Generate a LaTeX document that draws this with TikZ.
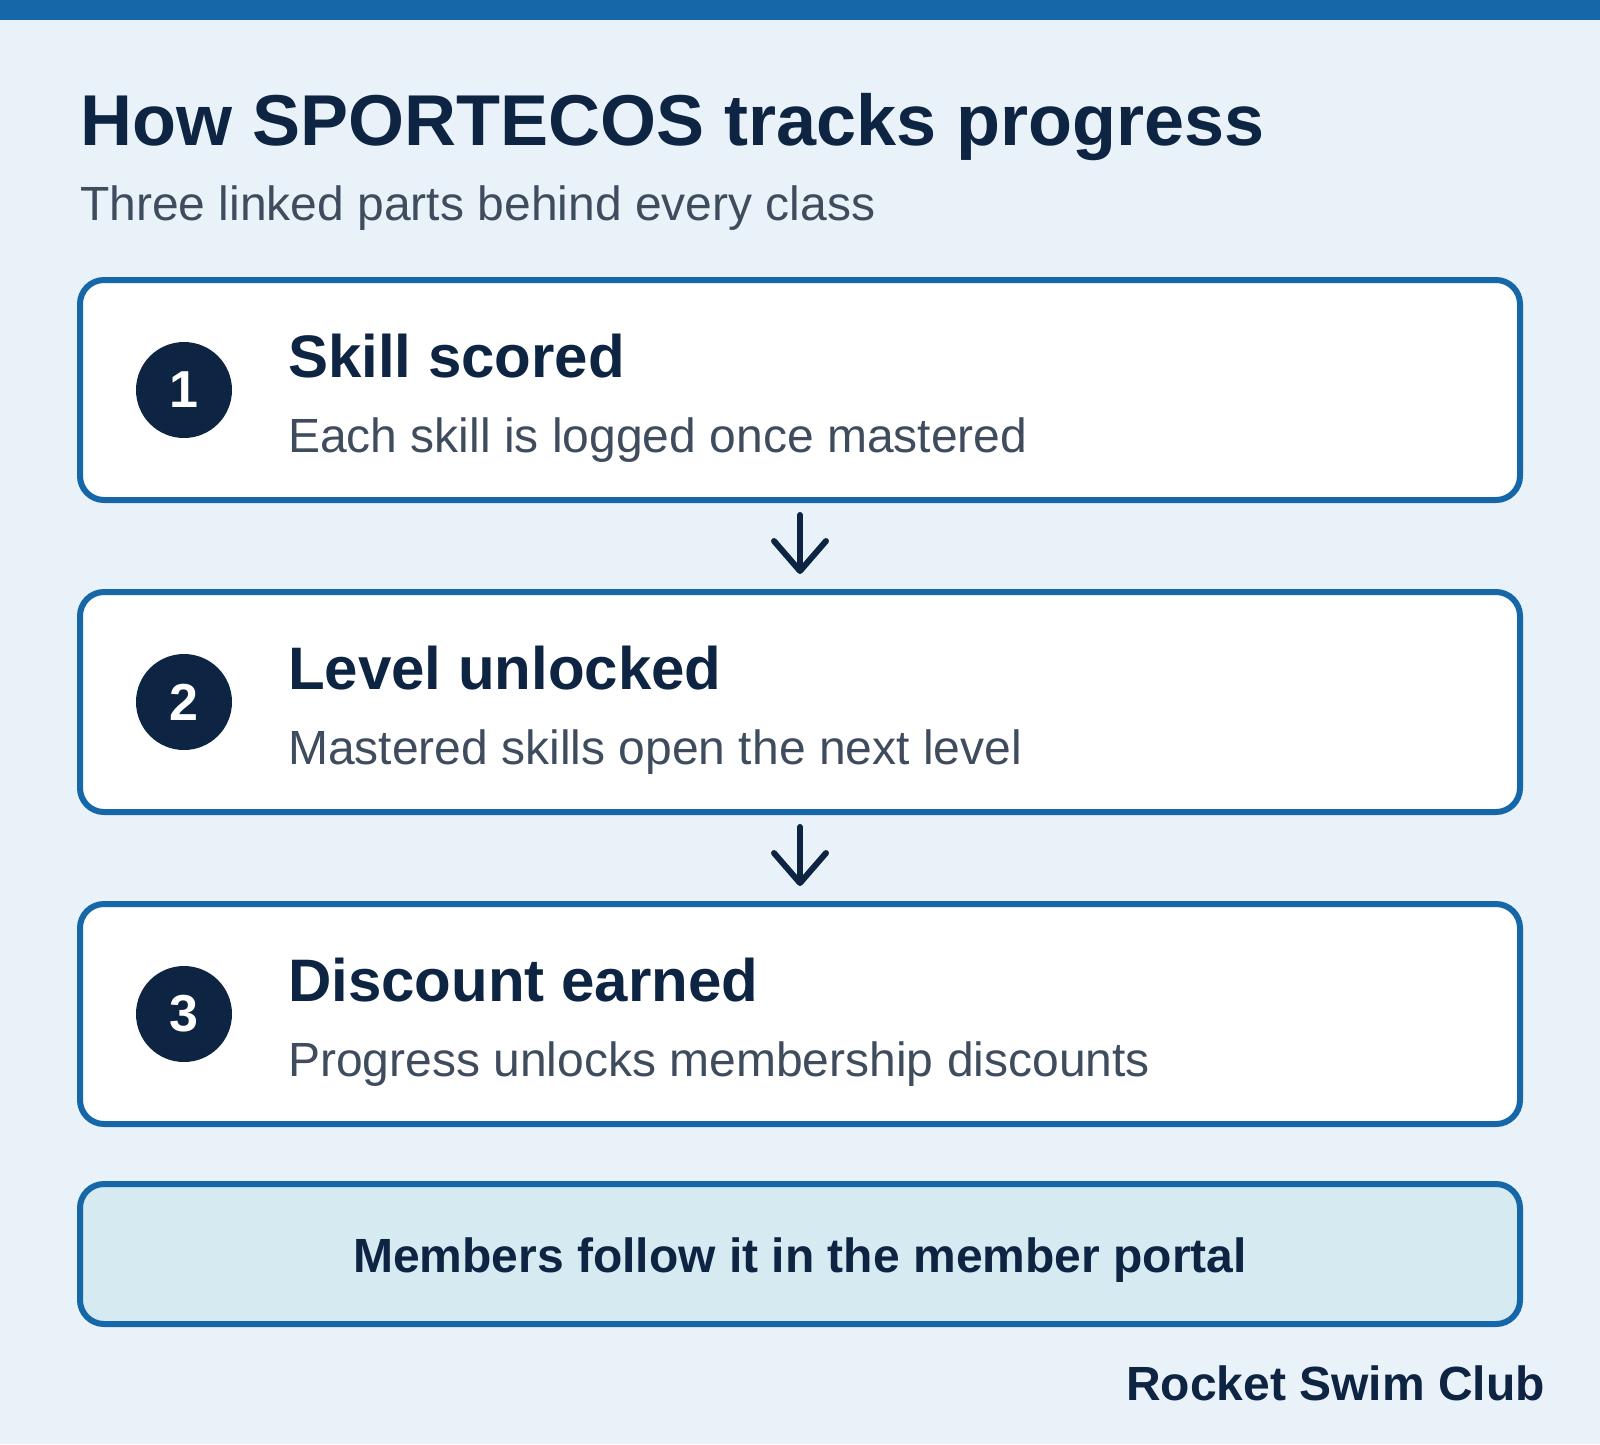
\documentclass[tikz,border=0pt]{standalone}
\usepackage{fontspec}
\setmainfont{Liberation Sans}
\usetikzlibrary{arrows.meta}
\definecolor{bg}{RGB}{234,242,249}
\definecolor{bluebar}{RGB}{22,103,168}
\definecolor{navy}{RGB}{13,36,66}
\definecolor{greytxt}{RGB}{62,76,94}
\definecolor{notefill}{RGB}{214,234,242}
\tikzset{
  stepbox/.style={draw=bluebar, line width=6pt, fill=white, rounded corners=24pt,
    minimum width=1440pt, minimum height=220pt, inner sep=0pt, outer sep=0pt},
  notebox/.style={stepbox, fill=notefill, minimum height=140pt},
  badge/.style={circle, fill=navy, text=white, minimum size=96pt, inner sep=0pt,
    font=\fontsize{52}{60}\selectfont\bfseries},
  headtxt/.style={anchor=base west, inner sep=0pt, text=navy, font=\fontsize{60}{70}\selectfont\bfseries},
  desctxt/.style={anchor=base west, inner sep=0pt, text=greytxt, font=\fontsize{48}{56}\selectfont},
  flowarrow/.style={draw=navy, line width=6pt, line cap=round,
    -{Straight Barb[length=30pt, width=52pt, line width=6pt, round]},
    shorten <=15pt, shorten >=18pt}
}
\begin{document}
\begin{tikzpicture}[x=1pt, y=-1pt]
\useasboundingbox (0,0) rectangle (1600,1444);
\fill[bg] (0,0) rectangle (1600,1444);
\fill[bluebar] (0,0) rectangle (1600,20);

\node[anchor=base west, inner sep=0pt, text=navy, font=\fontsize{72}{86}\selectfont\bfseries] (title) at (80,145) {How SPORTECOS tracks progress};
\node[anchor=base west, inner sep=0pt, text=greytxt, font=\fontsize{48}{56}\selectfont] (subtitle) at (80,220) {Three linked parts behind every class};

\node[stepbox] (b1) at (800,390) {};
\node[stepbox] (b2) at (800,702) {};
\node[stepbox] (b3) at (800,1014) {};

\node[badge] (c1) at (184,390) {1};
\node[badge] (c2) at (184,702) {2};
\node[badge] (c3) at (184,1014) {3};

\node[headtxt] (h1) at (288,377) {Skill scored};
\node[desctxt] (d1) at (288,452) {Each skill is logged once mastered};
\node[headtxt] (h2) at (288,689) {Level unlocked};
\node[desctxt] (d2) at (288,764) {Mastered skills open the next level};
\node[headtxt] (h3) at (288,1001) {Discount earned};
\node[desctxt] (d3) at (288,1076) {Progress unlocks membership discounts};

\draw[flowarrow] (b1.south) -- (b2.north);
\draw[flowarrow] (b2.south) -- (b3.north);

\node[notebox] (note) at (800,1254) {};
\node[anchor=base, inner sep=0pt, text=navy, font=\fontsize{48}{56}\selectfont\bfseries] (notetxt) at (800,1272) {Members follow it in the member portal};

\node[anchor=base east, inner sep=0pt, text=navy, font=\fontsize{48}{56}\selectfont\bfseries] (club) at (1545,1400) {Rocket Swim Club};
\end{tikzpicture}
\end{document}
